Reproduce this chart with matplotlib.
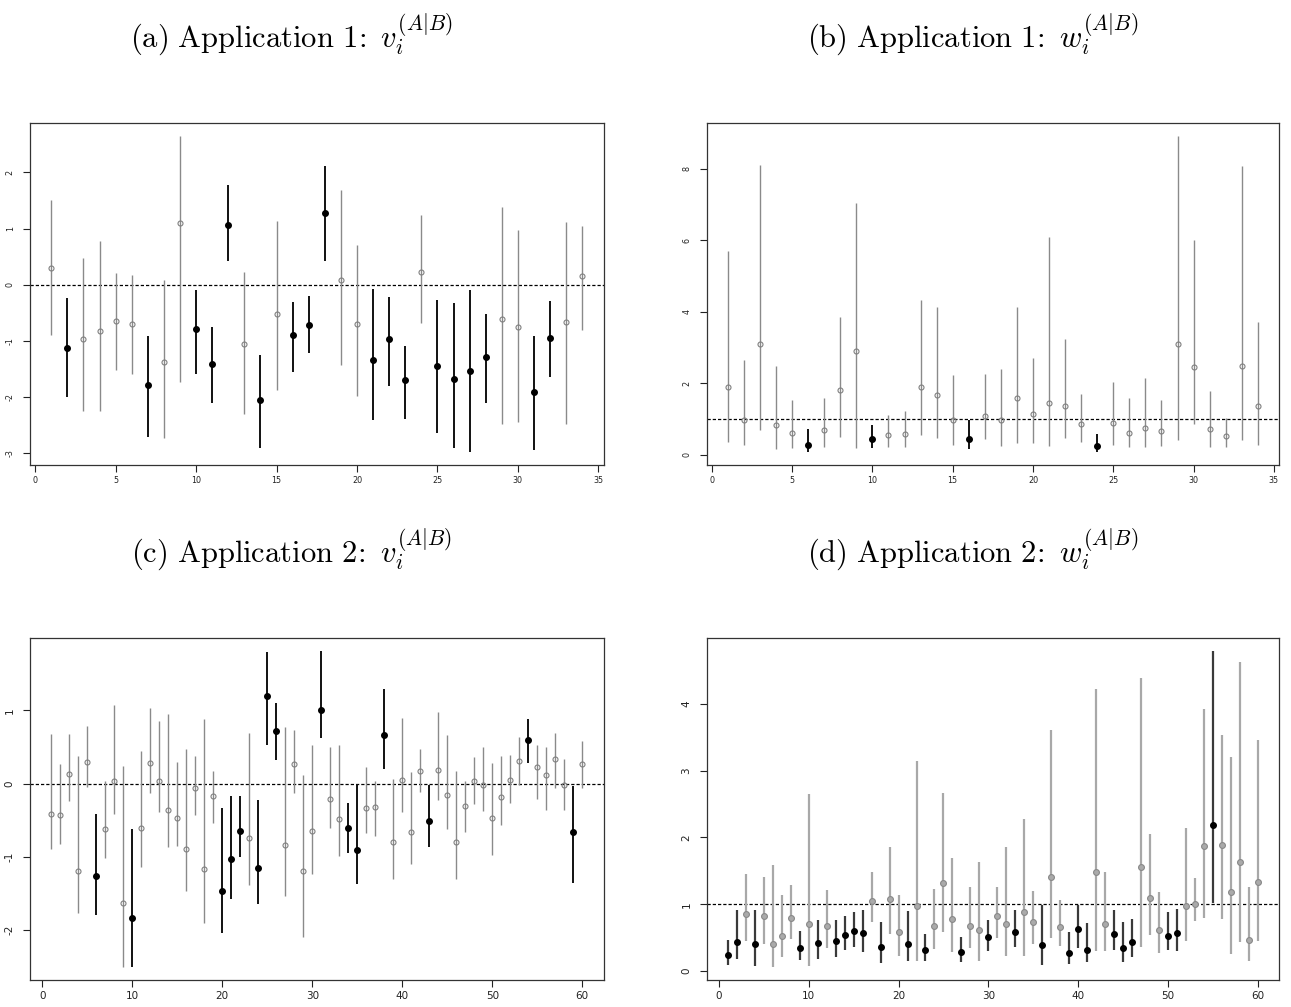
import numpy as np
import matplotlib
matplotlib.use("Agg")
import matplotlib.pyplot as plt

plt.rcParams['mathtext.fontset'] = 'cm'

# ---------------- data ----------------
titles = [r"$\mathrm{(a)\ Application\ 1\!:}\ v_i^{(A|B)}$",
          r"$\mathrm{(b)\ Application\ 1\!:}\ w_i^{(A|B)}$",
          r"$\mathrm{(c)\ Application\ 2\!:}\ v_i^{(A|B)}$",
          r"$\mathrm{(d)\ Application\ 2\!:}\ w_i^{(A|B)}$"]

a_est = [0.30, -1.115, -0.97, -0.82, -0.64, -0.70, -1.78, -1.38, 1.10, -0.79,
         -1.40, 1.07, -1.06, -2.05, -0.52, -0.90, -0.71, 1.275, 0.09, -0.69,
         -1.33, -0.96, -1.70, 0.225, -1.45, -1.68, -1.54, -1.29, -0.61, -0.75,
         -1.90, -0.95, -0.66, 0.16]
a_lo = [-0.89, -1.99, -2.24, -2.24, -1.51, -1.59, -2.70, -2.73, -1.73, -1.59,
        -2.11, 0.43, -2.30, -2.91, -1.87, -1.55, -1.22, 0.43, -1.42, -1.97,
        -2.41, -1.80, -2.39, -0.67, -2.64, -2.91, -2.98, -2.11, -2.47, -2.44,
        -2.94, -1.64, -2.48, -0.81]
a_hi = [1.51, -0.237, 0.47, 0.78, 0.21, 0.18, -0.91, 0.09, 2.65, -0.09,
        -0.75, 1.77, 0.23, -1.24, 1.13, -0.30, -0.20, 2.12, 1.68, 0.71,
        -0.065, -0.21, -1.09, 1.245, -0.27, -0.33, -0.095, -0.52, 1.39, 0.97,
        -0.91, -0.28, 1.12, 1.04]

b_est = [1.90, 0.97, 3.11, 0.83, 0.60, 0.28, 0.68, 1.80, 2.90, 0.43,
         0.55, 0.57, 1.89, 1.66, 0.97, 0.45, 1.09, 0.97, 1.585, 1.15,
         1.46, 1.35, 0.87, 0.24, 0.88, 0.62, 0.755, 0.67, 3.10, 2.46,
         0.72, 0.52, 2.49, 1.36]
b_lo = [0.345, 0.26, 0.70, 0.17, 0.19, 0.065, 0.21, 0.50, 0.19, 0.19,
        0.205, 0.22, 0.54, 0.47, 0.28, 0.17, 0.45, 0.23, 0.32, 0.33,
        0.23, 0.46, 0.345, 0.065, 0.27, 0.205, 0.205, 0.24, 0.41, 0.86,
        0.22, 0.21, 0.40, 0.26]
b_hi = [5.70, 2.64, 8.11, 2.49, 1.54, 0.72, 1.585, 3.85, 7.04, 0.82,
        1.12, 1.23, 4.34, 4.14, 2.22, 0.96, 2.27, 2.39, 4.13, 2.70,
        6.09, 3.25, 1.70, 0.59, 2.04, 1.585, 2.15, 1.54, 8.92, 6.01,
        1.77, 1.03, 8.08, 3.72]

c_est = [-0.41, -0.43, 0.136, -1.20, 0.295, -1.26, -0.62, 0.04, -1.63, -1.83,
         -0.605, 0.286, 0.04, -0.355, -0.477, -0.895, -0.068, -1.17, -0.17, -1.47,
         -1.03, -0.645, -0.745, -1.16, 1.195, 0.714, -0.836, 0.264, -1.195, -0.655,
         1.0, -0.21, -0.48, -0.61, -0.914, -0.33, -0.32, 0.664, -0.80, 0.05,
         -0.66, 0.177, -0.51, 0.19, -0.15, -0.795, -0.31, 0.04, -0.014, -0.477,
         -0.18, 0.05, 0.305, 0.59, 0.23, 0.114, 0.336, -0.014, -0.664, 0.26]
c_lo = [-0.895, -0.82, -0.236, -1.77, -0.045, -1.795, -1.02, -0.41, -2.51, -2.5,
        -1.14, -0.127, -0.395, -0.86, -0.855, -1.47, -0.436, -1.90, -0.545, -2.045,
        -1.57, -1.01, -1.39, -1.64, 0.53, 0.32, -1.536, -0.127, -2.10, -1.23,
        0.62, -0.61, -0.986, -0.955, -1.377, -0.67, -0.71, 0.205, -1.31, -0.39,
        -1.10, -0.11, -0.86, -0.22, -0.62, -1.31, -0.66, -0.277, -0.377, -0.98,
        -0.56, -0.27, -0.023, 0.286, -0.214, -0.368, -0.055, -0.355, -1.355, -0.068]
c_hi = [0.67, 0.27, 0.68, 0.377, 0.79, -0.42, 0.03, 1.07, 0.24, -0.62,
        0.445, 1.03, 0.86, 0.945, 0.30, 0.477, 0.377, 0.88, 0.177, -0.34,
        -0.17, -0.168, 0.695, -0.22, 1.80, 1.10, 0.77, 0.73, 0.123, 0.52,
        1.81, 0.50, 0.52, -0.27, -0.01, 0.22, 0.04, 1.286, 0.06, 0.90,
        0.16, 0.47, -0.018, 0.97, 0.66, 0.168, 0.036, 0.36, 0.50, 0.28,
        0.377, 0.386, 0.64, 0.886, 0.53, 0.50, 0.686, 0.336, -0.036, 0.586]

d_est = [0.24, 0.44, 0.85, 0.41, 0.82, 0.40, 0.53, 0.80, 0.34, 0.71,
         0.42, 0.68, 0.45, 0.54, 0.60, 0.57, 1.05, 0.36, 1.08, 0.58,
         0.41, 0.98, 0.31, 0.68, 1.31, 0.78, 0.28, 0.68, 0.61, 0.51,
         0.82, 0.70, 0.58, 0.89, 0.73, 0.39, 1.40, 0.66, 0.27, 0.63,
         0.32, 1.48, 0.71, 0.55, 0.35, 0.43, 1.56, 1.10, 0.62, 0.52,
         0.57, 0.97, 1.01, 1.87, 2.18, 1.89, 1.18, 1.63, 0.47, 1.33]
d_lo = [0.09, 0.185, 0.45, 0.075, 0.41, 0.055, 0.21, 0.48, 0.165, 0.075,
        0.18, 0.34, 0.21, 0.32, 0.36, 0.28, 0.74, 0.115, 0.55, 0.22,
        0.15, 0.145, 0.145, 0.33, 0.58, 0.29, 0.13, 0.35, 0.145, 0.30,
        0.49, 0.225, 0.36, 0.22, 0.41, 0.095, 0.49, 0.38, 0.105, 0.35,
        0.13, 0.30, 0.30, 0.31, 0.13, 0.21, 0.36, 0.54, 0.27, 0.31,
        0.30, 0.45, 0.75, 0.79, 1.02, 0.78, 0.26, 0.44, 0.155, 0.45]
d_hi = [0.46, 0.91, 1.45, 0.91, 1.41, 1.58, 1.14, 1.28, 0.60, 2.65,
        0.76, 1.21, 0.77, 0.83, 0.89, 0.91, 1.48, 0.74, 1.86, 1.14,
        0.90, 3.15, 0.55, 1.23, 2.66, 1.69, 0.51, 1.26, 1.63, 0.76,
        1.26, 1.855, 0.91, 2.27, 1.20, 0.985, 3.61, 1.06, 0.58, 0.985,
        0.72, 4.22, 1.48, 0.91, 0.74, 0.78, 4.38, 2.045, 1.19, 0.89,
        0.93, 2.14, 1.39, 3.92, 4.79, 3.53, 3.20, 4.62, 1.25, 3.45]

ref_values = [0, 1, 0, 1]
a_xticks = [0, 5, 10, 15, 20, 25, 30, 35]
b_xticks = [0, 5, 10, 15, 20, 25, 30, 35]
c_xticks = [0, 10, 20, 30, 40, 50, 60]
d_xticks = [0, 10, 20, 30, 40, 50, 60]
a_yticks = [-3, -2, -1, 0, 1, 2]
b_yticks = [0, 2, 4, 6, 8]
c_yticks = [-2, -1, 0, 1]
d_yticks = [0, 1, 2, 3, 4]

# ---------------- figure ----------------
W, H = 1291, 1007
fig = plt.figure(figsize=(W / 100, H / 100), dpi=100)


def ax_rect(l, t, r, b):
    return [l / W, 1 - b / H, (r - l) / W, (b - t) / H]


rects = [ax_rect(30, 123.3, 603.5, 465), ax_rect(706.7, 123.3, 1279, 465),
         ax_rect(30, 638.3, 603.5, 980), ax_rect(706.7, 638.3, 1279, 980)]

panels = [(a_est, a_lo, a_hi, a_xticks, a_yticks),
          (b_est, b_lo, b_hi, b_xticks, b_yticks),
          (c_est, c_lo, c_hi, c_xticks, c_yticks),
          (d_est, d_lo, d_hi, d_xticks, d_yticks)]

for k, (est, lo, hi, xt, yt) in enumerate(panels):
    ax = fig.add_axes(rects[k])
    est = np.asarray(est)
    lo = np.asarray(lo)
    hi = np.asarray(hi)
    n = len(est)
    x = np.arange(1, n + 1)
    ref = ref_values[k]
    sig = (hi < ref) | (lo > ref)
    top_row = k < 2
    if k == 3:
        gcol, glw, bcol, blw = '#a8a8a8', 1.6, '#3a3a3a', 1.6
    else:
        gcol, glw, bcol, blw = '#8a8a8a', 1.0, '#111111', 1.4
    ax.vlines(x[~sig], lo[~sig], hi[~sig], color=gcol, lw=glw, zorder=2)
    ax.vlines(x[sig], lo[sig], hi[sig], color=bcol, lw=blw, zorder=2)
    if k == 3:
        ax.plot(x[~sig], est[~sig], 'o', mfc='#aaaaaa', mec='#888888',
                mew=0.8, ms=4.2, zorder=3)
    else:
        ax.plot(x[~sig], est[~sig], 'o', mfc='none', mec='#808080',
                mew=0.8, ms=3.6, zorder=3)
    ax.plot(x[sig], est[sig], 'o', color='black', ms=4.0, zorder=3)
    ax.axhline(ref, color='black', lw=0.9, ls=(0, (2.6, 1.6)), zorder=1)

    # R-style 4% axis padding
    xp = 0.04 * (n - 1)
    ax.set_xlim(1 - xp, n + xp)
    ymin, ymax = lo.min(), hi.max()
    yp = 0.04 * (ymax - ymin)
    ax.set_ylim(ymin - yp, ymax + yp)

    ax.set_xticks(xt)
    ax.set_yticks(yt)
    ax.set_yticklabels([str(v) for v in yt], rotation=90, va='center')
    fs = 5.8 if top_row else 7.5
    ax.tick_params(axis='both', direction='out', length=5, width=0.8,
                   labelsize=fs, colors='#222222')
    ax.tick_params(axis='y', pad=6)
    ax.tick_params(axis='x', pad=3)
    for sp in ax.spines.values():
        sp.set_linewidth(0.9)
        sp.set_color('#333333')

# titles
title_pos = [(291, 47), (973, 47), (291, 562), (973, 562)]
for (tx, ty), t in zip(title_pos, titles):
    fig.text(tx / W, 1 - ty / H, t, ha='center', va='baseline', fontsize=22)

fig.savefig('out.png', dpi=100)
